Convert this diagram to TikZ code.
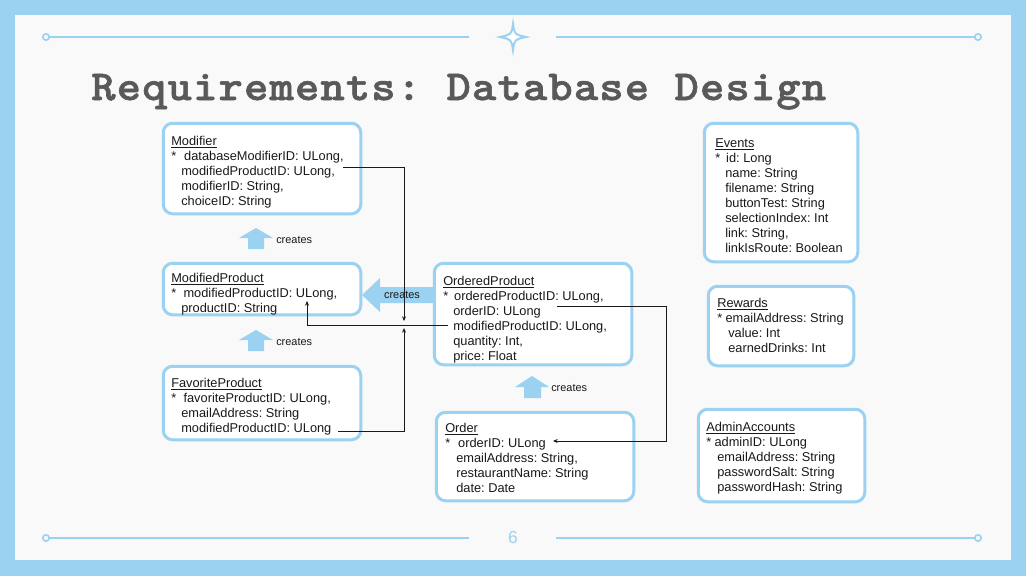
\documentclass[tikz,border=0pt]{standalone}
\usepackage{fontspec}
\setmainfont{Liberation Sans}
\newfontfamily\titlefont[LetterSpace=2.5,FakeBold=1.3]{lmmonolt10-bold.otf}
\usetikzlibrary{arrows.meta}
\definecolor{sky}{RGB}{155,209,241}
\definecolor{bg}{RGB}{249,249,249}
\definecolor{ttl}{RGB}{89,89,89}
\definecolor{ink}{RGB}{25,25,25}
\newcommand{\ind}[1]{\hspace*{#1}}
\frenchspacing
\begin{document}
\begin{tikzpicture}[x=0.75pt,y=-0.75pt,
  tbl/.style 2 args={draw=sky, line width=2.25pt, rounded corners=7pt, fill=white, inner sep=0pt,
     minimum width=#1*0.75pt, minimum height=#2*0.75pt},
  txt/.style={anchor=north west, inner sep=0pt, align=left, text=ink, font=\fontsize{9.6}{11.3}\selectfont},
  lbl/.style={anchor=west, inner sep=0pt, text=ink, font=\fontsize{8.2}{10}\selectfont},
  conn/.style={draw=ink, line width=0.7pt},
  tip/.style={-{Stealth[length=3.5pt,width=3pt]}},
  deco/.style={draw=sky, line width=1.6pt},
  blockarrow/.style={fill=sky, draw=none}]
\useasboundingbox (0,0) rectangle (1026,576);
% frame
\fill[sky] (0,0) rectangle (1026,576);
\fill[bg] (15,15) rectangle (1011,560);
% decorative lines
\draw[deco] (49,37) -- (469,37);
\draw[deco] (556,37) -- (975,37);
\draw[deco] (49,538) -- (469,538);
\draw[deco] (556,538) -- (975,538);
\draw[deco, fill=bg, line width=1.2pt] (46,37) circle[radius=2.4pt];
\draw[deco, fill=bg, line width=1.2pt] (978,37) circle[radius=2.4pt];
\draw[deco, fill=bg, line width=1.2pt] (46,538) circle[radius=2.4pt];
\draw[deco, fill=bg, line width=1.2pt] (978,538) circle[radius=2.4pt];
\draw[deco, fill=white, line width=1.5pt] (513,24) .. controls (514.5,34.5) .. (526,37)
  .. controls (514.5,39.5) .. (513,50) .. controls (511.5,39.5) .. (500,37)
  .. controls (511.5,34.5) .. (513,24) -- cycle;
\node[text=sky, inner sep=0pt, font=\fontsize{13}{15}\selectfont] (pagenum) at (513,538) {6};
% title
\node[anchor=base west, inner sep=0pt, text=ttl, font=\titlefont\fontsize{32}{36}\selectfont] (title) at (91,100) {\scalebox{1.085}[1]{Requirements: Database Design}};
% boxes
\node[tbl={197.5}{90.5}] (modifier) at (262,168.5) {};
\node[tbl={197.5}{51.5}] (modprod) at (262,289) {};
\node[tbl={197.5}{73.5}] (favprod) at (262,403) {};
\node[tbl={197.5}{101.5}] (ordprod) at (533,314) {};
\node[tbl={197.5}{88.5}] (order) at (535,456.5) {};
\node[tbl={153.5}{138.5}] (events) at (781,192.5) {};
\node[tbl={145.5}{79.5}] (rewards) at (781,326) {};
\node[tbl={166.5}{92.5}] (admin) at (781.5,455.5) {};
% texts
\node[txt] (modifierT) at (171,136) {\underline{Modifier}\\
  *\hspace{6pt}databaseModifierID: ULong,\\
  \ind{7.5pt}modifiedProductID: ULong,\\
  \ind{7.5pt}modifierID: String,\\
  \ind{7.5pt}choiceID: String};
\node[txt] (modprodT) at (171,273) {\underline{ModifiedProduct}\\
  *\hspace{5.5pt}modifiedProductID: ULong,\\
  \ind{7.5pt}productID: String};
\node[txt] (favprodT) at (171,378) {\underline{FavoriteProduct}\\
  *\hspace{5.5pt}favoriteProductID: ULong,\\
  \ind{7.5pt}emailAddress: String\\
  \ind{7.5pt}modifiedProductID: ULong};
\node[txt] (ordprodT) at (443,276) {\underline{OrderedProduct}\\
  *\hspace{4.5pt}orderedProductID: ULong,\\
  \ind{7.5pt}orderID: ULong\\
  \ind{7.5pt}modifiedProductID: ULong,\\
  \ind{7.5pt}quantity: Int,\\
  \ind{7.5pt}price: Float};
\node[txt] (orderT) at (445,423) {\underline{Order}\\
  *\hspace{6pt}orderID: ULong\\
  \ind{8.25pt}emailAddress: String,\\
  \ind{8.25pt}restaurantName: String\\
  \ind{8.25pt}date: Date};
\node[txt] (eventsT) at (715,138) {\underline{Events}\\
  *\hspace{4.5pt}id: Long\\
  \ind{7.5pt}name: String\\
  \ind{7.5pt}filename: String\\
  \ind{7.5pt}buttonTest: String\\
  \ind{7.5pt}selectionIndex: Int\\
  \ind{7.5pt}link: String,\\
  \ind{7.5pt}linkIsRoute: Boolean};
\node[txt] (rewardsT) at (717,298) {\underline{Rewards}\\
  *\hspace{2.5pt}emailAddress: String\\
  \ind{8.25pt}value: Int\\
  \ind{8.25pt}earnedDrinks: Int};
\node[txt] (adminT) at (706,422) {\underline{AdminAccounts}\\
  *\hspace{2.5pt}adminID: ULong\\
  \ind{8.25pt}emailAddress: String\\
  \ind{8.25pt}passwordSalt: String\\
  \ind{8.25pt}passwordHash: String};
% "creates" block arrows
\fill[blockarrow] (256,228) -- (273,238) -- (264,238) -- (264,249) -- (248,249) -- (248,238) -- (239,238) -- cycle;
\node[lbl] (cr1) at (276,240) {creates};
\fill[blockarrow] (256,330) -- (273,340) -- (264,340) -- (264,351) -- (248,351) -- (248,340) -- (239,340) -- cycle;
\node[lbl] (cr2) at (276,342) {creates};
\fill[blockarrow] (532,376) -- (549,387) -- (541,387) -- (541,398) -- (524,398) -- (524,387) -- (515,387) -- cycle;
\node[lbl] (cr3) at (551,388) {creates};
\fill[blockarrow] (362,295) -- (380,278) -- (380,287) -- (433,287) -- (433,303) -- (380,303) -- (380,312) -- cycle;
\node[lbl, anchor=center] (cr4) at (402,295) {creates};
% connectors
\coordinate (a0) at (343,167);
\coordinate (a1) at (404,167);
\coordinate (a2) at (404,321);
\draw[conn,tip] (a0) -- (a1) -- (a2);
\coordinate (b0) at (338,431);
\coordinate (b1) at (404,431);
\coordinate (b2) at (404,328);
\draw[conn,tip] (b0) -- (b1) -- (b2);
\coordinate (c0) at (448,325);
\coordinate (c1) at (307,325);
\coordinate (c2) at (307,301);
\draw[conn,tip] (c0) -- (c1) -- (c2);
\coordinate (d0) at (557,306);
\coordinate (d1) at (666,306);
\coordinate (d2) at (666,441);
\coordinate (d3) at (553,441);
\draw[conn,tip] (d0) -- (d1) -- (d2) -- (d3);
\end{tikzpicture}
\end{document}
